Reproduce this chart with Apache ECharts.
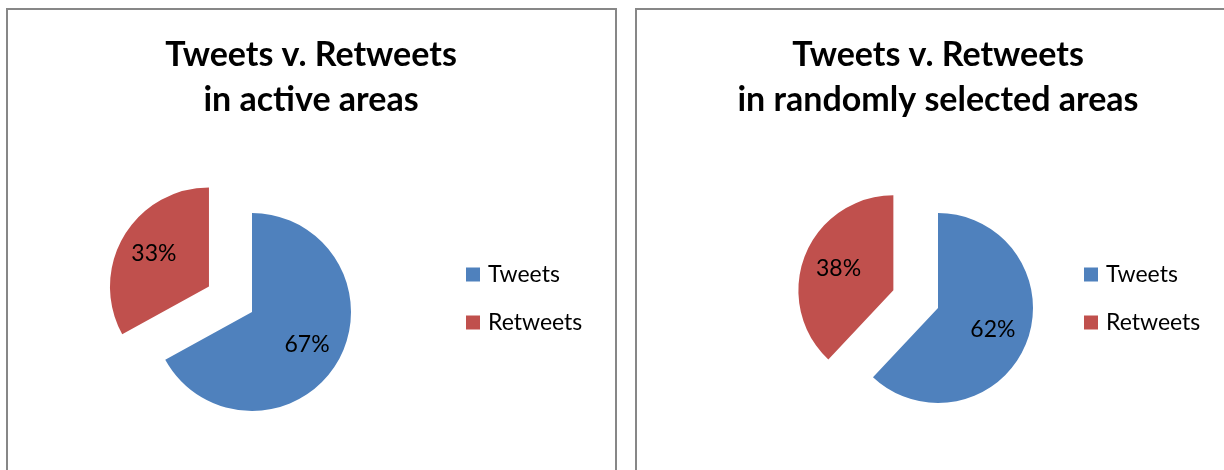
<!DOCTYPE html>
<html>
<head>
<meta charset="utf-8">
<script src="https://cdn.jsdelivr.net/npm/echarts@6/dist/echarts.min.js"></script>
<style>
  html, body { margin: 0; padding: 0; background: #fff; }
  #main { width: 1224px; height: 470px; }
</style>
</head>
<body>
<div id="main"></div>
<script>
// data
var categories = ['Tweets', 'Retweets'];
var activeShares = [67, 33];
var randomShares = [62, 38];
var titles = ['Tweets v. Retweets\nin active areas', 'Tweets v. Retweets\nin randomly selected areas'];
var colors = ['#4F81BD', '#C0504D'];

var FONT = 'Lato, "Open Sans", sans-serif';

function buildData(values, transparent) {
    var list = [];
    for (var i = 0; i < categories.length; i++) {
        list.push({
            name: categories[i],
            value: values[i],
            selected: categories[i] === 'Retweets',
            itemStyle: { color: transparent ? 'rgba(0,0,0,0)' : colors[i] }
        });
    }
    return list;
}

// pie + a transparent copy that only carries the labels (so they sit ~60% out)
function pieSeries(values, center, radius, offset, innerForLabel) {
    return [
        {
            type: 'pie',
            center: center,
            radius: radius,
            startAngle: 90,
            clockwise: true,
            selectedMode: 'single',
            selectedOffset: offset,
            label: { show: false },
            labelLine: { show: false },
            select: { itemStyle: { borderWidth: 0 } },
            emphasis: { disabled: true },
            data: buildData(values, false)
        },
        {
            type: 'pie',
            center: center,
            radius: [innerForLabel, radius],
            startAngle: 90,
            clockwise: true,
            selectedMode: 'single',
            selectedOffset: offset,
            silent: true,
            label: {
                show: true,
                position: 'inside',
                formatter: '{c}%',
                color: '#000',
                fontFamily: FONT,
                fontSize: 23
            },
            labelLine: { show: false },
            emphasis: { disabled: true },
            data: buildData(values, true)
        }
    ];
}

function legendFor(left) {
    return {
        orient: 'vertical',
        left: left,
        top: 261,
        padding: 0,
        itemWidth: 14,
        itemHeight: 14,
        itemGap: 21,
        icon: 'rect',
        selectedMode: false,
        textStyle: { fontFamily: FONT, fontSize: 23, color: '#000', lineHeight: 27, padding: [0, 0, 0, 3] },
        data: [
            { name: categories[0], itemStyle: { color: colors[0] } },
            { name: categories[1], itemStyle: { color: colors[1] } }
        ]
    };
}

var myChart = echarts.init(document.getElementById('main'));
var option = {
    animation: false,
    backgroundColor: '#fff',
    graphic: [
        { type: 'rect', shape: { x: 7, y: 9, width: 609, height: 520 }, style: { fill: 'none', stroke: '#878787', lineWidth: 2 } },
        { type: 'rect', shape: { x: 636, y: 9, width: 620, height: 520 }, style: { fill: 'none', stroke: '#878787', lineWidth: 2 } }
    ],
    title: [
        {
            text: titles[0], left: 311, top: 33, padding: 0, textAlign: 'center',
            textStyle: { fontFamily: FONT, fontWeight: 'bold', fontSize: 34, lineHeight: 45, color: '#000' }
        },
        {
            text: titles[1], left: 938, top: 33, padding: 0, textAlign: 'center',
            textStyle: { fontFamily: FONT, fontWeight: 'bold', fontSize: 34, lineHeight: 45, color: '#000' }
        }
    ],
    legend: [legendFor(466), legendFor(1084)],
    series: pieSeries(activeShares, [252, 312], 99, 50, 23)
        .concat(pieSeries(randomShares, [938, 308], 95, 48, 17))
};
myChart.setOption(option);
</script>
</body>
</html>
